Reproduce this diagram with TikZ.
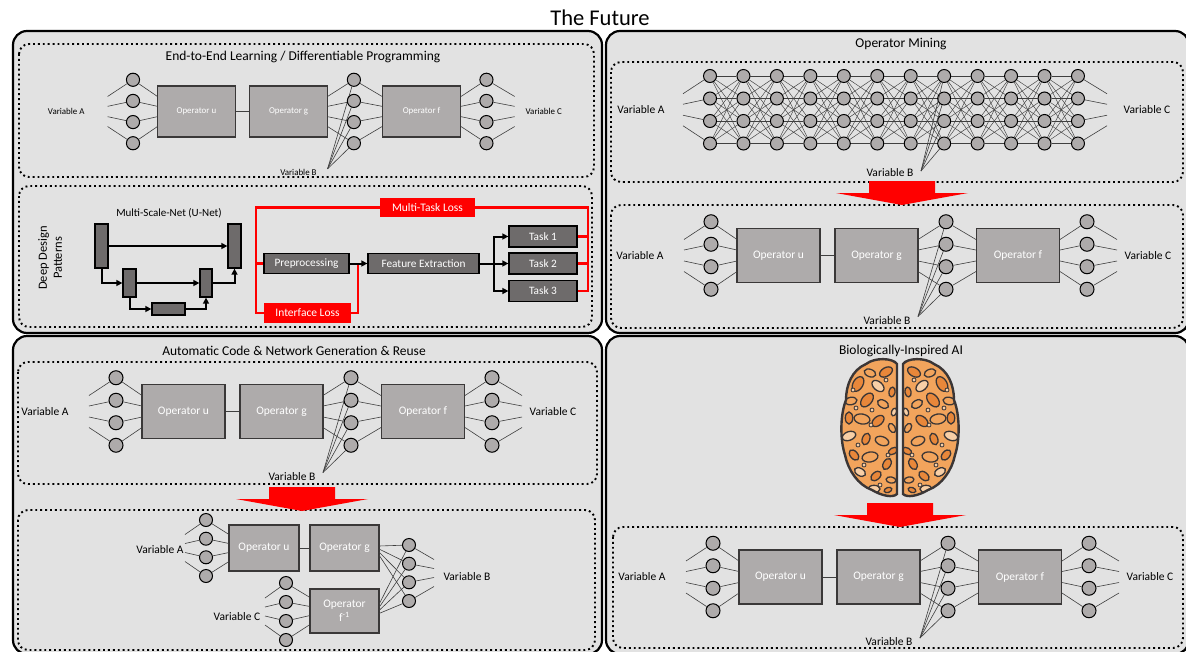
\documentclass[tikz,border=0pt]{standalone}
\usepackage{fontspec}
\setmainfont{Carlito}
\usepackage{tikz}
\usetikzlibrary{arrows.meta}

\definecolor{panelgray}{HTML}{E2E2E2}
\definecolor{opgray}{HTML}{AEABAB}
\definecolor{boxline}{HTML}{3A3838}
\definecolor{darkbox}{HTML}{6E6B6B}
\definecolor{linegray}{HTML}{3F3F3F}
\definecolor{brainA}{HTML}{F2A45C}
\definecolor{brainB}{HTML}{F8CFA6}
\definecolor{brainC}{HTML}{E8873A}
\definecolor{brainline}{HTML}{3B3636}

\tikzset{
  pics/opchain/.style={code={
    \node[opbox] (-u) at (67.5,0) {Operator u};
    \node[opbox] (-g) at (165.5,0) {Operator g};
    \node[opbox] (-f) at (307,0) {Operator f};
    \node[varlabel] (-va) at (-71,0) {Variable A};
    \node[varlabel] (-vc) at (437,0) {Variable C};
    \node[varlabel] (-vb) at (176,65) {Variable B};
    \coordinate (-vbtip) at (207,61);
    \draw[link] (-u) -- (-g);
    \foreach \i/\y/\f in {1/-33.75/-16,2/-11.25/-5.5,3/11.25/5.5,4/33.75/16}{
      \node[neuron] (-a\i) at (0,\y) {};
      \node[neuron] (-b\i) at (235,\y) {};
      \node[neuron] (-c\i) at (376,\y) {};
      \coordinate (-ain\i) at (-27,\f);
      \coordinate (-uin\i) at (26,\f);
      \coordinate (-gout\i) at (207,\f);
      \coordinate (-fin\i) at (265,\f);
      \coordinate (-fout\i) at (349,\f);
      \coordinate (-cout\i) at (406,\f);
      \draw[link] (-ain\i) -- (-a\i) -- (-uin\i);
      \draw[link] (-gout\i) -- (-b\i) -- (-fin\i);
      \draw[link] (-fout\i) -- (-c\i) -- (-cout\i);
      \draw[link] (-vbtip) -- (-b\i);
    }
  }},
  pics/redarrow/.style={code={
    \fill[red] (-33,0) -- (33,0) -- (33,12) -- (66,12) -- (0,24) -- (-66,12) -- (-33,12) -- cycle;
  }},
  pics/hemisphere/.style={code={
    \path[save path=\hemi] (-3,-64) .. controls (-7,-70) and (-25,-71) .. (-34,-64)
      .. controls (-48,-58) and (-54,-43) .. (-54,-28) .. controls (-60,-13) and (-60,12) .. (-55,27)
      .. controls (-52,42) and (-42,57) .. (-28,62) .. controls (-18,68) and (-7,70) .. (-3,66) -- cycle;
    \begin{scope}
      \clip[use path=\hemi];
      \fill[brainA,use path=\hemi];
      \foreach \x/\y/\r/\a/\c in {-14/-56/7/30/brainC,-30/-55/6/-20/brainA,-42/-44/8/60/brainC,
        -22/-42/7/-40/brainB,-8/-36/5/80/brainC,-49/-27/6/10/brainA,-33/-28/8/50/brainC,
        -17/-24/6/-30/brainA,-6/-16/4/70/brainB,-51/-10/6/90/brainC,-38/-9/8/-10/brainA,
        -22/-7/7/40/brainC,-8/0/5/-60/brainA,-51/8/7/20/brainB,-34/11/6/70/brainC,
        -18/13/7/-20/brainA,-7/23/5/30/brainC,-46/27/6/-50/brainC,-30/29/8/10/brainA,
        -13/36/6/60/brainC,-40/44/6/-30/brainB,-24/48/6/40/brainC,-9/52/5/-10/brainA,
        -26/61/6/0/brainB,-12/62/4/20/brainC}
        \draw[brainline,line width=1.3pt,fill=\c,rotate around={\a:(\x,\y)}] (\x,\y) ellipse[x radius=\r pt,y radius=0.62*\r pt];
      \foreach \x/\y in {-44/-20,-28/-18,-42/17,-20/57,-14/-48,-29/-3,-12/27,-36/37,-47/-38}
        \draw[brainline,line width=0.8pt,fill=brainB] (\x,\y) circle[radius=2pt];
    \end{scope}
    \draw[brainline,line width=2.4pt,use path=\hemi];
  }}
}

\begin{document}
\begin{tikzpicture}[x=1pt,y=-1pt,
  panel/.style={draw=black,line width=2.2pt,fill=panelgray,rounded corners=14pt},
  dotbox/.style={draw=black,line width=1.9pt,dash pattern=on 1.9pt off 3pt,rounded corners=10pt},
  headline/.style={font=\fontsize{13.5}{16}\selectfont,inner sep=0pt},
  opbox/.style={draw=boxline,line width=1.4pt,fill=opgray,text=white,minimum width=83pt,minimum height=54pt,inner sep=0pt},
  neuron/.style={circle,draw=black,line width=1pt,fill=opgray,minimum size=14pt,inner sep=0pt},
  link/.style={draw=linegray,line width=0.6pt},
  mesh/.style={draw=linegray,line width=0.45pt},
  varlabel/.style={inner sep=0pt},
  chainsmall/.style={font=\fontsize{9.5}{11}\selectfont,scale=0.94,transform shape},
  chainbig/.style={font=\fontsize{11.5}{13.5}\selectfont},
  ublock/.style={draw=black,line width=1.3pt,fill=darkbox,inner sep=0pt},
  stage/.style={draw=black,line width=1.3pt,fill=darkbox,text=white,font=\fontsize{11.3}{13}\selectfont,inner sep=0pt,minimum height=20pt},
  lossbox/.style={fill=red,text=white,font=\fontsize{11.5}{13}\selectfont,inner sep=0pt,minimum height=19pt},
  flow/.style={draw=black,line width=2pt,-{Triangle[length=6pt,width=6pt]}},
  lossline/.style={draw=red,line width=2.6pt},
]
  \useasboundingbox (0,0) rectangle (1186,651);
  \clip (0,0) rectangle (1186,651);
  \fill[white] (0,0) rectangle (1186,651);
  \node[font=\fontsize{22.5}{26}\selectfont,inner sep=0pt] (future) at (600,18) {The Future};

  %panels
  \draw[panel] (13,31) rectangle (602,333);
  \draw[panel] (606,31) rectangle (1189,333);
  \draw[panel] (13,336) rectangle (602,654);
  \draw[panel] (606,336) rectangle (1189,654);
  %dotted frames
  \draw[dotbox] (19,44) rectangle (594,177);
  \draw[dotbox] (19,186) rectangle (592,327);
  \draw[dotbox] (611,62) rectangle (1183,182);
  \draw[dotbox] (611,205) rectangle (1183,328);
  \draw[dotbox] (18,362) rectangle (597,484);
  \draw[dotbox] (18,510) rectangle (595,650);
  \draw[dotbox] (613,527) rectangle (1183,648);

  %end-to-end learning
  \node[headline] (e2e) at (303,57) {End-to-End Learning / Differentiable Programming};
  \pic[chainsmall] (net1) at (133,111.5) {opchain};

  %deep design patterns
  \node[rotate=90,align=center,font=\fontsize{12.5}{15}\selectfont] (ddp) at (50,258) {Deep Design\\Patterns};
  \node[font=\fontsize{11}{13}\selectfont] (unet) at (169,213) {Multi-Scale-Net (U-Net)};
  \node[ublock,minimum width=13pt,minimum height=44pt] (ul) at (101.5,246) {};
  \node[ublock,minimum width=13pt,minimum height=44pt] (ur) at (234.5,246) {};
  \node[ublock,minimum width=13pt,minimum height=28pt] (ml) at (129.5,283) {};
  \node[ublock,minimum width=12pt,minimum height=28pt] (mr) at (206,283) {};
  \node[ublock,minimum width=33pt,minimum height=12pt] (bt) at (168.5,309) {};
  \draw[flow] (ul) -- (ur);
  \draw[flow] (ul) |- (ml);
  \draw[flow] (ml) -- (mr);
  \draw[flow] (ml) |- (bt);
  \draw[flow] (bt) -| (mr);
  \draw[flow] (mr) -| (ur);

  \node[stage,minimum width=85pt] (pre) at (306.5,263.5) {Preprocessing};
  \node[stage,minimum width=111pt] (fe) at (423.5,263.5) {Feature Extraction};
  \node[stage,minimum width=68pt,minimum height=21pt] (t1) at (543,236.5) {Task 1};
  \node[stage,minimum width=68pt,minimum height=21pt] (t2) at (543,263.5) {Task 2};
  \node[stage,minimum width=68pt,minimum height=21pt] (t3) at (543,291) {Task 3};
  \node[lossbox,minimum width=95pt] (mtl) at (427.5,207.5) {Multi-Task Loss};
  \node[lossbox,minimum width=87pt,minimum height=20pt] (il) at (307.5,313) {Interface Loss};
  \coordinate (lossnw) at (256,207.5);
  \coordinate (losssw) at (256,313);
  \coordinate (lossne) at (588,207.5);
  \coordinate (lossse) at (588,292);
  \coordinate (ifjoin) at (358,263.5);
  \coordinate (fork) at (494,263.5);
  \draw[lossline] (mtl) -- (lossnw) -- (losssw) -- (il);
  \draw[lossline] (lossnw |- pre) -- (pre);
  \draw[lossline] (il) -| (ifjoin);
  \draw[lossline] (mtl) -- (lossne) -- (lossse);
  \foreach \t in {t1,t2,t3}
    \draw[lossline] (\t) -- (lossne |- \t);
  \draw[flow] (pre) -- (fe);
  \draw[flow] (fe) -- (t2);
  \draw[flow] (fork) |- (t1);
  \draw[flow] (fork) |- (t3);

  %operator mining
  \node[headline] (mining) at (901,44) {Operator Mining};
  \begin{scope}[font=\fontsize{11.5}{13.5}\selectfont]
    \foreach \k in {0,...,11}
      \foreach \i/\y in {1/76,2/98.5,3/121,4/143.5}
        \node[neuron,minimum size=13pt] (m\k-\i) at (710+33.45*\k,\y) {};
    \foreach \k [evaluate=\k as \kn using int(\k+1)] in {0,...,10}
      \foreach \i in {1,...,4}
        \foreach \j in {1,...,4}
          \draw[mesh] (m\k-\i) -- (m\kn-\j);
    \node[varlabel] (mva) at (641,110) {Variable A};
    \node[varlabel] (mvc) at (1147,110) {Variable C};
    \node[varlabel] (mvb) at (890,173) {Variable B};
    \coordinate (mvbtip) at (921,171);
    \foreach \i/\f in {1/-16,2/-5.5,3/5.5,4/16}{
      \coordinate (min\i) at (683,109.75+\f);
      \coordinate (mout\i) at (1107,109.75+\f);
      \draw[link] (min\i) -- (m0-\i);
      \draw[link] (m11-\i) -- (mout\i);
      \draw[link] (mvbtip) -- (m7-\i);
    }
  \end{scope}
  \pic[chainbig] (net2) at (711,255.5) {opchain};
  \pic at (902,181) {redarrow};

  %code generation
  \node[headline] (acg) at (294,351) {Automatic Code \& Network Generation \& Reuse};
  \pic[chainbig] (net3) at (116,411.5) {opchain};
  \pic at (302,487) {redarrow};
  \begin{scope}[font=\fontsize{11.5}{13.5}\selectfont]
    \node[opbox,minimum width=70pt,minimum height=46pt] (ru) at (264,548) {Operator u};
    \node[opbox,minimum width=69pt,minimum height=46pt] (rg) at (344.5,548) {Operator g};
    \node[opbox,minimum width=69pt,minimum height=44pt,align=center] (rf) at (344.5,611) {Operator\\f\textsuperscript{-1}};
    \draw[link] (ru) -- (rg);
    \node[varlabel] (rva) at (160,550) {Variable A};
    \node[varlabel] (rvb) at (467,577) {Variable B};
    \node[varlabel] (rvc) at (237,617) {Variable C};
    \foreach \i/\ya/\yb/\yc/\f in {1/520/545/583/-13.5,2/538.7/563.7/602/-4.5,3/557.3/582.3/621/4.5,4/576/601/640/13.5}{
      \node[neuron,minimum size=13pt] (ra\i) at (206,\ya) {};
      \node[neuron,minimum size=13pt] (rb\i) at (409,\yb) {};
      \node[neuron,minimum size=13pt] (rc\i) at (286,\yc) {};
      \coordinate (rain\i) at (185,548+\f);
      \coordinate (ruin\i) at (229,548+\f);
      \coordinate (rcin\i) at (265,611.5+\f);
      \coordinate (rfin\i) at (310,611+\f);
      \coordinate (rgout\i) at (379,550.5+\f/3);
      \coordinate (rfout\i) at (379,609+\f/3);
      \coordinate (rbout\i) at (434,573+\f);
      \draw[link] (rain\i) -- (ra\i) -- (ruin\i);
      \draw[link] (rcin\i) -- (rc\i) -- (rfin\i);
      \draw[link] (rgout\i) -- (rb\i) -- (rbout\i);
      \draw[link] (rfout\i) -- (rb\i);
    }
  \end{scope}

  %biologically inspired
  \node[headline] (bio) at (901,351) {Biologically-Inspired AI};
  \pic at (900,428) {hemisphere};
  \pic[xscale=-1] at (900,428) {hemisphere};
  \pic at (900,503) {redarrow};
  \pic[chainbig] (net4) at (713,577) {opchain};
\end{tikzpicture}
\end{document}
